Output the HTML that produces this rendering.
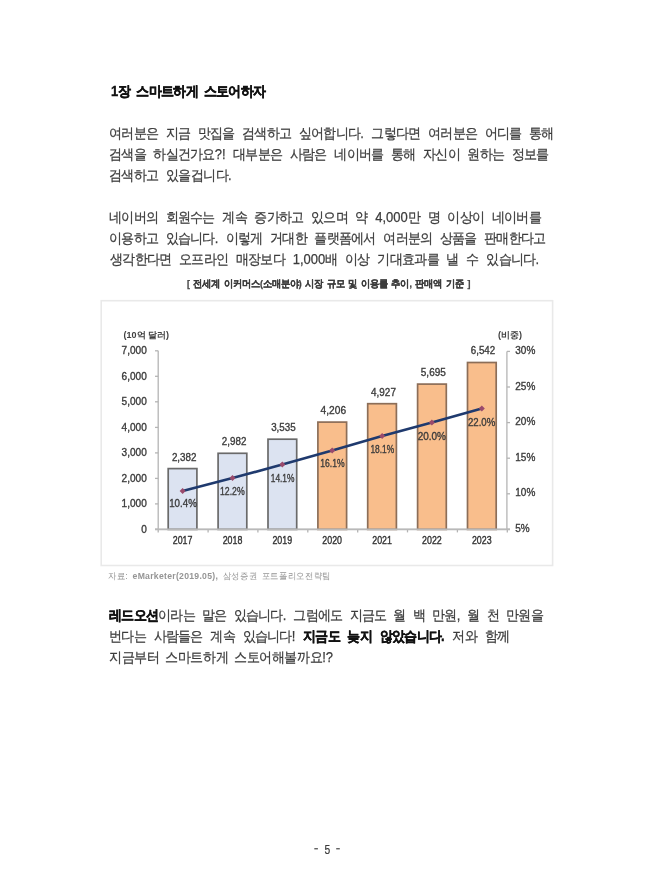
<!DOCTYPE html>
<html><head><meta charset="utf-8">
<style>
html,body{margin:0;padding:0;background:#fff;}
body{width:652px;height:884px;position:relative;overflow:hidden;filter:blur(0.35px);font-family:"Liberation Sans",sans-serif;}
.l{position:absolute;white-space:nowrap;font-size:14px;line-height:20px;color:#3c3c3c;-webkit-text-stroke:0.25px #3c3c3c;letter-spacing:-0.8px;word-spacing:2.8px;transform:scaleX(0.93);transform-origin:0 0;}
.b{font-weight:bold;color:#111;-webkit-text-stroke:0.35px #111;}
.a{letter-spacing:0;}
</style></head><body>
<div class="l b" id="title" style="left:111px;top:81px;word-spacing:3.3px;width:170px;overflow:hidden;"><span class="a">1</span>장 스마트하게 스토어하자</div>

<div class="l" id="p1a" style="left:109px;top:123px;word-spacing:5.05px;width:482px;overflow:hidden;">여러분은 지금 맛집을 검색하고 싶어합니다<span class="a">.</span> 그렇다면 여러분은 어디를 통해</div>
<div class="l" id="p1b" style="left:109px;top:144px;word-spacing:5.04px;width:477px;overflow:hidden;">검색을 하실건가요<span class="a">?!</span> 대부분은 사람은 네이버를 통해 자신이 원하는 정보를</div>
<div class="l" id="p1c" style="left:109px;top:165px;word-spacing:5px;letter-spacing:-0.7px;width:136px;overflow:hidden;">검색하고 있을겁니다<span class="a">.</span></div>

<div class="l" id="p2a" style="left:109px;top:207px;word-spacing:5.01px;width:468px;overflow:hidden;">네이버의 회원수는 계속 증가하고 있으며 약 <span class="a">4,000</span>만 명 이상이 네이버를</div>
<div class="l" id="p2b" style="left:109px;top:228px;word-spacing:4.95px;width:473px;overflow:hidden;">이용하고 있습니다<span class="a">.</span> 이렇게 거대한 플랫폼에서 여러분의 상품을 판매한다고</div>
<div class="l" id="p2c" style="left:110px;top:249px;word-spacing:5.17px;width:465px;overflow:hidden;">생각한다면 오프라인 매장보다 <span class="a">1,000</span>배 이상 기대효과를 낼 수 있습니다<span class="a">.</span></div>

<div class="l" id="cap" style="left:187px;top:274px;word-spacing:1.5px;font-size:9.5px;font-weight:bold;color:#444;letter-spacing:-0.3px;width:308px;overflow:hidden;">[ 전세계 이커머스(소매분야) 시장 규모 및 이용률 추이, 판매액 기준 ]</div>

<div class="l" id="p3a" style="left:109px;top:605px;word-spacing:4.5px;width:471px;overflow:hidden;"><span class="b">레드오션</span>이라는 말은 있습니다<span class="a">.</span> 그럼에도 지금도 월 백 만원<span class="a">,</span> 월 천 만원을</div>
<div class="l" id="p3b" style="left:109px;top:626px;word-spacing:5.17px;width:434px;overflow:hidden;">번다는 사람들은 계속 있습니다<span class="a">!</span> <span class="b">지금도 늦지 않았습니다<span class="a">.</span></span> 저와 함께</div>
<div class="l" id="p3c" style="left:109px;top:647px;word-spacing:2.8px;letter-spacing:-0.45px;width:245px;overflow:hidden;">지금부터 스마트하게 스토어해볼까요<span class="a">!?</span></div>

<div class="l" id="src" style="left:108px;top:566.4px;word-spacing:2.01px;font-size:9.3px;color:#959595;-webkit-text-stroke:0;letter-spacing:0.3px;width:244px;overflow:hidden;">자료: <span style="font-weight:bold">eMarketer(2019.05),</span> 삼성증권 포트폴리오전략팀</div>


<svg id="chart" style="position:absolute;left:0;top:0;" width="652" height="884" viewBox="0 0 652 884" font-family="Liberation Sans, sans-serif">
<rect x="101.2" y="300.7" width="451.4" height="264.8" fill="#fff" stroke="#e9e9e9" stroke-width="1.6"/>
<g stroke="#b4b4b4" stroke-width="1.3" fill="none">
<line x1="158.2" y1="350.8" x2="158.2" y2="529.4"/>
<line x1="506.9" y1="351.4" x2="506.9" y2="529.4"/>
<line x1="155" y1="529.4" x2="510" y2="529.4"/>
<line x1="155" y1="529.4" x2="158.2" y2="529.4"/>
<line x1="155" y1="503.9" x2="158.2" y2="503.9"/>
<line x1="155" y1="478.4" x2="158.2" y2="478.4"/>
<line x1="155" y1="452.9" x2="158.2" y2="452.9"/>
<line x1="155" y1="427.4" x2="158.2" y2="427.4"/>
<line x1="155" y1="401.8" x2="158.2" y2="401.8"/>
<line x1="155" y1="376.3" x2="158.2" y2="376.3"/>
<line x1="155" y1="350.8" x2="158.2" y2="350.8"/>
<line x1="506.9" y1="529.4" x2="510" y2="529.4"/>
<line x1="506.9" y1="493.8" x2="510" y2="493.8"/>
<line x1="506.9" y1="458.2" x2="510" y2="458.2"/>
<line x1="506.9" y1="422.6" x2="510" y2="422.6"/>
<line x1="506.9" y1="387.0" x2="510" y2="387.0"/>
<line x1="506.9" y1="351.4" x2="510" y2="351.4"/>
<line x1="158.2" y1="529.4" x2="158.2" y2="532.4"/>
<line x1="208.1" y1="529.4" x2="208.1" y2="532.4"/>
<line x1="257.9" y1="529.4" x2="257.9" y2="532.4"/>
<line x1="307.8" y1="529.4" x2="307.8" y2="532.4"/>
<line x1="357.7" y1="529.4" x2="357.7" y2="532.4"/>
<line x1="407.5" y1="529.4" x2="407.5" y2="532.4"/>
<line x1="457.4" y1="529.4" x2="457.4" y2="532.4"/>
<line x1="507.3" y1="529.4" x2="507.3" y2="532.4"/>
</g>
<rect x="168.2" y="468.6" width="28.7" height="60.8" fill="#dce3f1" stroke="#6a6a6a" stroke-width="1.7"/>
<rect x="218.1" y="453.3" width="28.7" height="76.1" fill="#dce3f1" stroke="#6a6a6a" stroke-width="1.7"/>
<rect x="268.0" y="439.2" width="28.7" height="90.2" fill="#dce3f1" stroke="#6a6a6a" stroke-width="1.7"/>
<rect x="317.9" y="422.1" width="28.7" height="107.3" fill="#f9be8c" stroke="#8c6e58" stroke-width="1.7"/>
<rect x="367.7" y="403.7" width="28.7" height="125.7" fill="#f9be8c" stroke="#8c6e58" stroke-width="1.7"/>
<rect x="417.6" y="384.1" width="28.7" height="145.3" fill="#f9be8c" stroke="#8c6e58" stroke-width="1.7"/>
<rect x="467.5" y="362.5" width="28.7" height="166.9" fill="#f9be8c" stroke="#8c6e58" stroke-width="1.7"/>
<line x1="155" y1="529.4" x2="510" y2="529.4" stroke="#b9b9b9" stroke-width="1.6"/>
<polyline points="182.6,491.0 232.5,478.1 282.3,464.6 332.2,450.4 382.1,436.1 431.9,422.6 481.8,408.4" fill="none" stroke="#1f3a6e" stroke-width="2.6" stroke-linejoin="round"/>
<path d="M182.6,488.0 l3,3 l-3,3 l-3,-3z" fill="#9a4a6c"/>
<path d="M232.5,475.1 l3,3 l-3,3 l-3,-3z" fill="#9a4a6c"/>
<path d="M282.3,461.6 l3,3 l-3,3 l-3,-3z" fill="#9a4a6c"/>
<path d="M332.2,447.4 l3,3 l-3,3 l-3,-3z" fill="#9a4a6c"/>
<path d="M382.1,433.1 l3,3 l-3,3 l-3,-3z" fill="#9a4a6c"/>
<path d="M431.9,419.6 l3,3 l-3,3 l-3,-3z" fill="#9a4a6c"/>
<path d="M481.8,405.4 l3,3 l-3,3 l-3,-3z" fill="#9a4a6c"/>
<g fill="#3c3c3c" font-size="10.5" stroke="#3c3c3c" stroke-width="0.35">
<text x="146.8" y="532.8" text-anchor="end" textLength="5.6" lengthAdjust="spacingAndGlyphs">0</text>
<text x="146.8" y="507.3" text-anchor="end" textLength="25.2" lengthAdjust="spacingAndGlyphs">1,000</text>
<text x="146.8" y="481.8" text-anchor="end" textLength="25.2" lengthAdjust="spacingAndGlyphs">2,000</text>
<text x="146.8" y="456.3" text-anchor="end" textLength="25.2" lengthAdjust="spacingAndGlyphs">3,000</text>
<text x="146.8" y="430.8" text-anchor="end" textLength="25.2" lengthAdjust="spacingAndGlyphs">4,000</text>
<text x="146.8" y="405.2" text-anchor="end" textLength="25.2" lengthAdjust="spacingAndGlyphs">5,000</text>
<text x="146.8" y="379.7" text-anchor="end" textLength="25.2" lengthAdjust="spacingAndGlyphs">6,000</text>
<text x="146.8" y="354.2" text-anchor="end" textLength="25.2" lengthAdjust="spacingAndGlyphs">7,000</text>
<text x="515.3" y="532.0" textLength="14.4" lengthAdjust="spacingAndGlyphs">5%</text>
<text x="515.3" y="496.4" textLength="20.0" lengthAdjust="spacingAndGlyphs">10%</text>
<text x="515.3" y="460.8" textLength="20.0" lengthAdjust="spacingAndGlyphs">15%</text>
<text x="515.3" y="425.2" textLength="20.0" lengthAdjust="spacingAndGlyphs">20%</text>
<text x="515.3" y="389.6" textLength="20.0" lengthAdjust="spacingAndGlyphs">25%</text>
<text x="515.3" y="354.0" textLength="20.0" lengthAdjust="spacingAndGlyphs">30%</text>
<text x="184.2" y="460.5" text-anchor="middle" textLength="24.6" lengthAdjust="spacingAndGlyphs">2,382</text>
<text x="234.1" y="445.2" text-anchor="middle" textLength="24.5" lengthAdjust="spacingAndGlyphs">2,982</text>
<text x="283.4" y="431.1" text-anchor="middle" textLength="24.5" lengthAdjust="spacingAndGlyphs">3,535</text>
<text x="333.3" y="414.0" text-anchor="middle" textLength="25.5" lengthAdjust="spacingAndGlyphs">4,206</text>
<text x="383.5" y="395.6" text-anchor="middle" textLength="24.8" lengthAdjust="spacingAndGlyphs">4,927</text>
<text x="433.3" y="376.0" text-anchor="middle" textLength="25.0" lengthAdjust="spacingAndGlyphs">5,695</text>
<text x="483.0" y="354.4" text-anchor="middle" textLength="24.4" lengthAdjust="spacingAndGlyphs">6,542</text>
<text x="183.0" y="507.4" text-anchor="middle" textLength="27.7" lengthAdjust="spacingAndGlyphs">10.4%</text>
<text x="232.3" y="495.0" text-anchor="middle" textLength="24.7" lengthAdjust="spacingAndGlyphs">12.2%</text>
<text x="282.6" y="481.7" text-anchor="middle" textLength="23.7" lengthAdjust="spacingAndGlyphs">14.1%</text>
<text x="332.5" y="467.1" text-anchor="middle" textLength="24.3" lengthAdjust="spacingAndGlyphs">16.1%</text>
<text x="382.3" y="452.5" text-anchor="middle" textLength="23.8" lengthAdjust="spacingAndGlyphs">18.1%</text>
<text x="431.8" y="440.0" text-anchor="middle" textLength="28.3" lengthAdjust="spacingAndGlyphs">20.0%</text>
<text x="481.6" y="425.8" text-anchor="middle" textLength="27.3" lengthAdjust="spacingAndGlyphs">22.0%</text>
</g>
<g fill="#333" font-size="11.8" stroke="#333" stroke-width="0.4">
<text x="182.6" y="543.6" text-anchor="middle" textLength="19.7" lengthAdjust="spacingAndGlyphs">2017</text>
<text x="232.5" y="543.6" text-anchor="middle" textLength="19.7" lengthAdjust="spacingAndGlyphs">2018</text>
<text x="282.3" y="543.6" text-anchor="middle" textLength="19.7" lengthAdjust="spacingAndGlyphs">2019</text>
<text x="332.2" y="543.6" text-anchor="middle" textLength="19.7" lengthAdjust="spacingAndGlyphs">2020</text>
<text x="382.1" y="543.6" text-anchor="middle" textLength="19.7" lengthAdjust="spacingAndGlyphs">2021</text>
<text x="431.9" y="543.6" text-anchor="middle" textLength="19.7" lengthAdjust="spacingAndGlyphs">2022</text>
<text x="481.8" y="543.6" text-anchor="middle" textLength="19.7" lengthAdjust="spacingAndGlyphs">2023</text>
</g>
<g fill="#404040" font-size="9" font-weight="bold">
<text x="123.5" y="338">(10억 달러)</text>
<text x="498" y="338">(비중)</text>
</g>
<g fill="#555"><rect x="314.3" y="848.1" width="3.6" height="1.3"/><rect x="336.2" y="848.1" width="3.6" height="1.3"/></g>
<text x="327.3" y="854.1" font-size="12" fill="#3c3c3c" stroke="#3c3c3c" stroke-width="0.2" text-anchor="middle" textLength="5.7" lengthAdjust="spacingAndGlyphs">5</text>
</svg>
</body></html>
